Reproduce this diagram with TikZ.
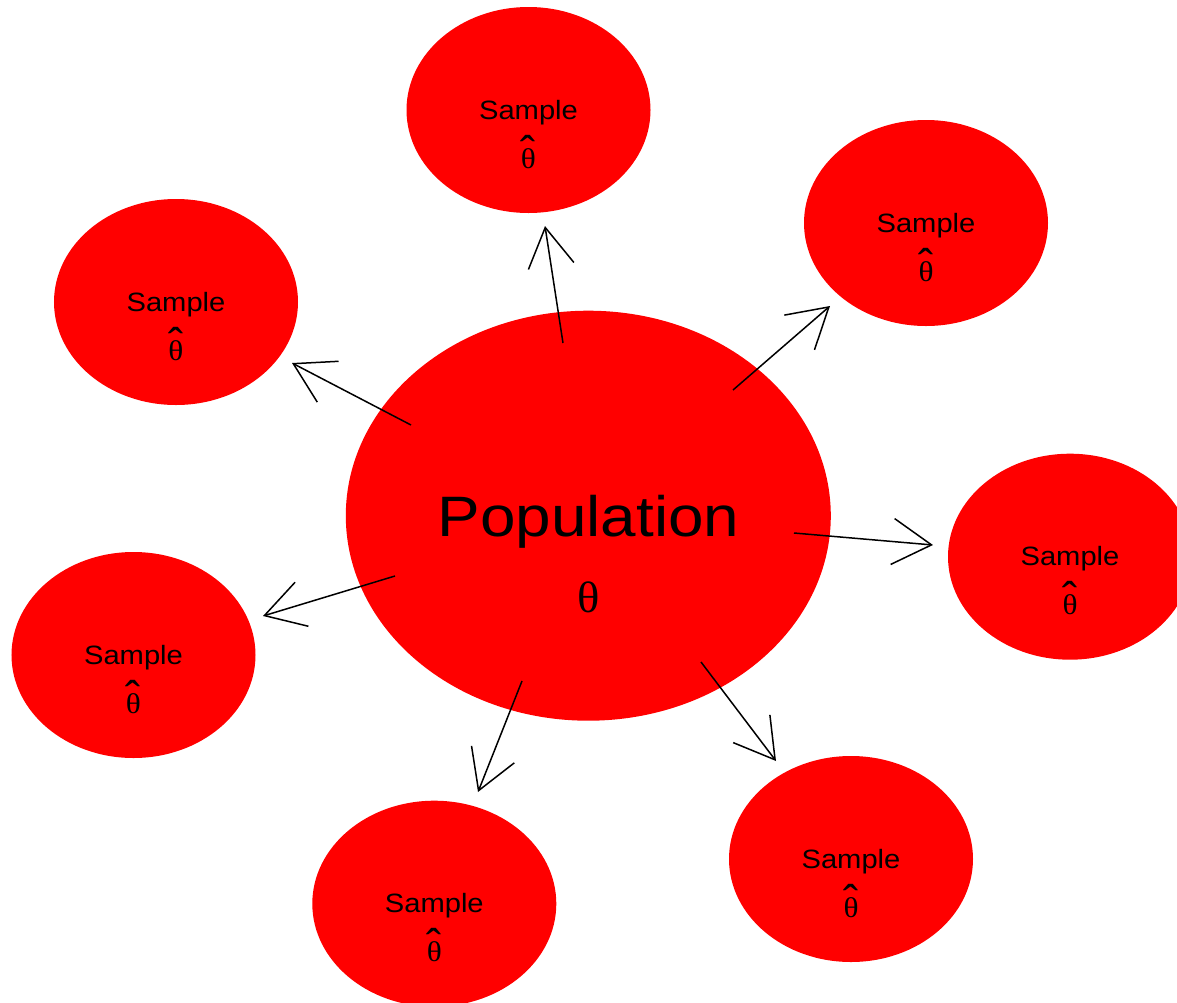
\documentclass[tikz,border=0pt]{standalone}
\usepackage{fontspec}
\usepackage{graphicx}
\setmainfont{Liberation Sans}
\newfontfamily\serifth{Liberation Serif}
\usetikzlibrary{arrows.meta,shapes.geometric}
\newcommand\thhat{\ooalign{\scalebox{1.1}[1]{θ}\cr\hidewidth\raisebox{0bp}{\scalebox{1.6}[1.6]{\fontspec{Liberation Sans}ˆ}}\hidewidth\cr}}
\begin{document}
\begin{tikzpicture}[x=1bp,y=-1bp,
  blob/.style={ellipse,fill=red,draw=none,inner sep=0pt,minimum width=244bp,minimum height=206bp},
  bigblob/.style={ellipse,fill=red,draw=none,inner sep=0pt,minimum width=485bp,minimum height=410bp},
  samptxt/.style={anchor=base,inner sep=0pt,font=\fontsize{26.5bp}{30bp}\selectfont},
  hattxt/.style={anchor=base,inner sep=0pt,font=\serifth\fontsize{28.5bp}{29bp}\selectfont},
  poptxt/.style={anchor=base,inner sep=0pt,font=\fontsize{57bp}{60bp}\selectfont},
  popth/.style={anchor=base,inner sep=0pt,font=\serifth\fontsize{44bp}{46bp}\selectfont},
  arr/.style={line width=1.5bp,-{Straight Barb[length=39bp,width=46bp]}}]
\useasboundingbox (0,0) rectangle (1177,1003);
\clip (0,0) rectangle (1177,1003);
% population
\node[bigblob] (pop) at (588.3,515.7) {};
\node[poptxt] (poplab) at (588.5,536.7) {\scalebox{1.12}[1]{Population}};
\node[popth] (popth) at (588.5,612.5) {\scalebox{1.06}[1]{θ}};
% samples
\foreach \n/\x/\y in {1/528.5/110, 2/926/223, 3/176/302, 4/1070/556.7, 5/133.5/655, 6/434.3/903.7, 7/851/859}{
  \node[blob] (s\n) at (\x,\y) {};
  \node[samptxt] (l\n) at (\x,\y+9) {\scalebox{1.1}[1]{Sample}};
  \node[hattxt] (h\n) at (\x,\y+58) {\thhat};
}
% arrows
\coordinate (a1) at (563,343); \coordinate (b1) at (545,226);
\coordinate (a2) at (733,390); \coordinate (b2) at (830,306);
\coordinate (a3) at (411,425); \coordinate (b3) at (292,363);
\coordinate (a4) at (794,533); \coordinate (b4) at (933,545);
\coordinate (a5) at (395,576); \coordinate (b5) at (263,616);
\coordinate (a6) at (522,681); \coordinate (b6) at (478,792);
\coordinate (a7) at (701,662); \coordinate (b7) at (776,761);
\foreach \i in {1,...,7}{\draw[arr] (a\i) -- (b\i);}
\end{tikzpicture}
\end{document}
